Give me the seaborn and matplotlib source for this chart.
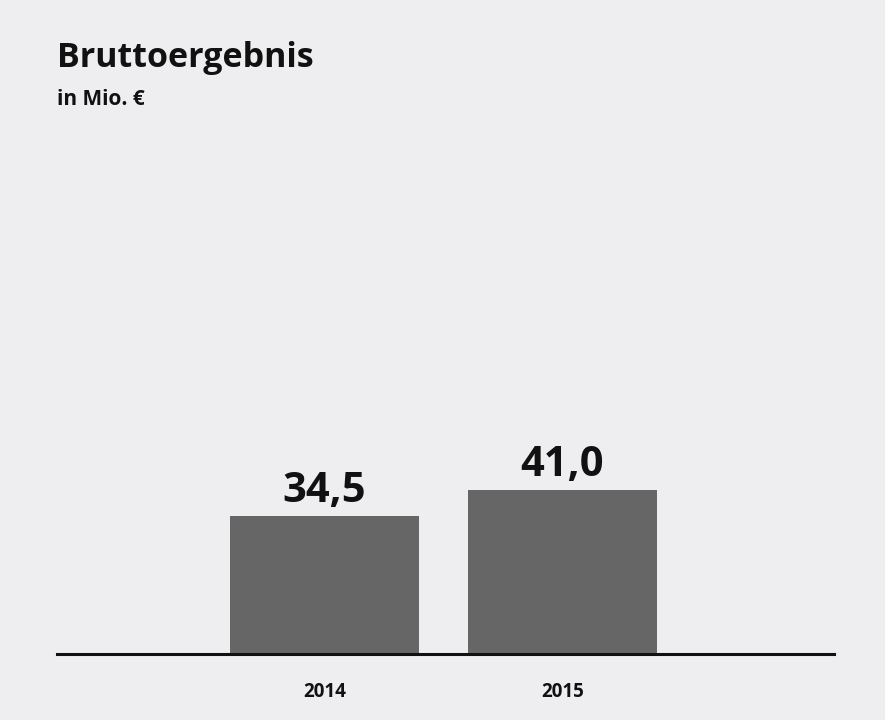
import pandas as pd
import seaborn as sns
import matplotlib.pyplot as plt

years = ['2014', '2015']
values = [34.5, 41.0]
labels = ['34,5', '41,0']

df = pd.DataFrame({'year': years, 'value': values})

bg = '#eeeef0'
sns.set_style('white')
plt.rcParams['font.family'] = ['Open Sans', 'DejaVu Sans']

fig = plt.figure(figsize=(8.85, 7.2), dpi=100, facecolor=bg)
ax = fig.add_axes([57/885, 66/720, 777/885, 504/720])
ax.set_facecolor(bg)

sns.barplot(data=df, x='year', y='value', color='#666666', width=0.794,
            saturation=1, linewidth=0, ax=ax)

for p, lab in zip(ax.patches, labels):
    ax.text(p.get_x() + p.get_width()/2, p.get_height() + 1.0, lab,
            ha='center', va='bottom', fontsize=30, fontweight='bold', color='#111111')

ax.set_xlim(-1.124, 2.141)
ax.set_ylim(0, 126)
ax.set_xlabel('')
ax.set_ylabel('')
ax.set_yticks([])
ax.tick_params(axis='x', length=0, pad=20)
for lab in ax.get_xticklabels():
    lab.set_fontsize(13.5)
    lab.set_fontweight('bold')
    lab.set_color('#111111')

for s in ['top', 'right', 'left']:
    ax.spines[s].set_visible(False)
ax.spines['bottom'].set_color('#111111')
ax.spines['bottom'].set_linewidth(2.2)

fig.text(57/885, 1 - 41/720, 'Bruttoergebnis', ha='left', va='top',
         fontsize=24.5, fontweight='bold', color='#111111')
fig.text(57/885, 1 - 89/720, 'in Mio. €', ha='left', va='top',
         fontsize=15, fontweight='bold', color='#111111')

fig.savefig('out.png', dpi=100, facecolor=bg)
